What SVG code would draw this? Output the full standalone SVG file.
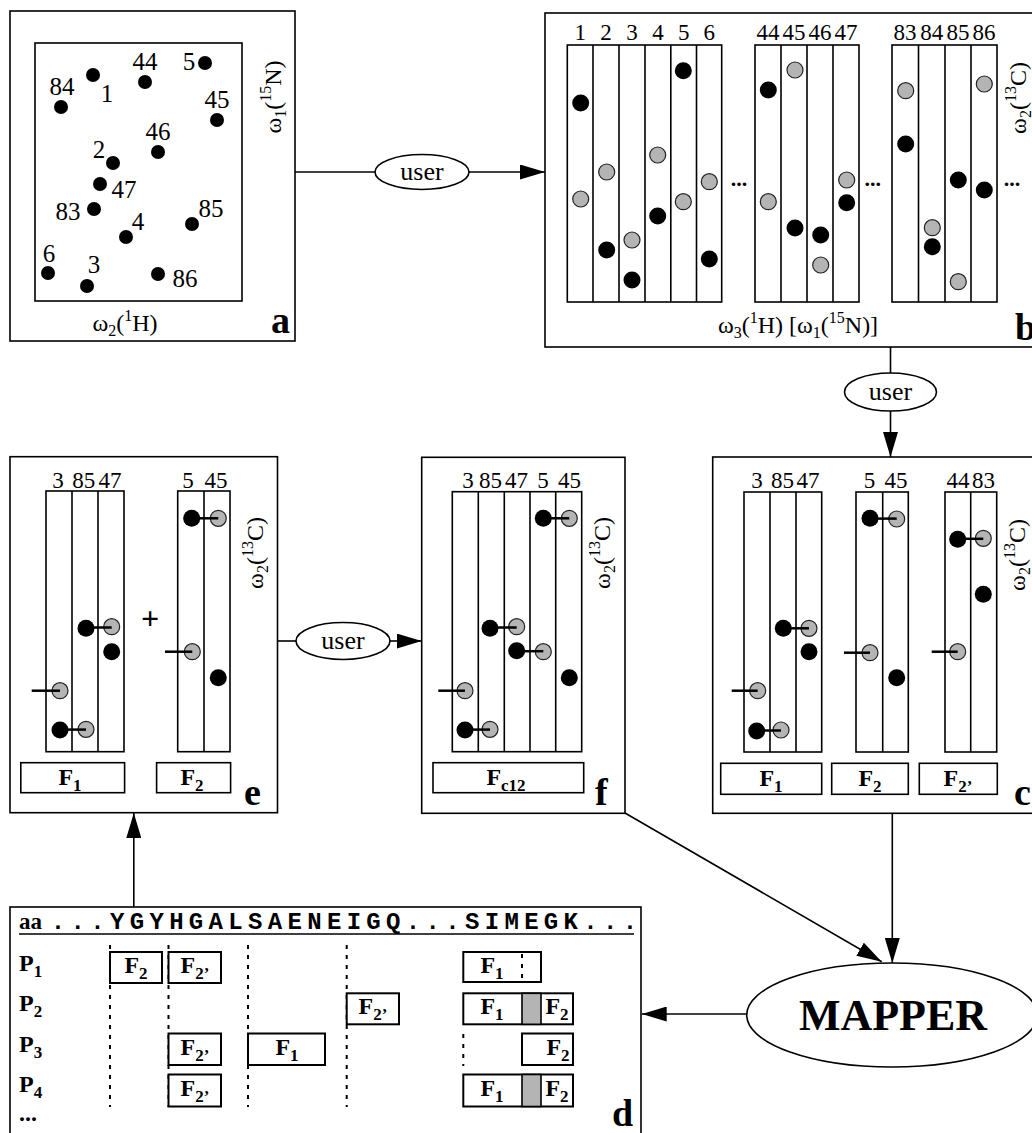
<svg xmlns="http://www.w3.org/2000/svg" width="1032" height="1133" viewBox="0 0 1032 1133">
<defs>
<marker id="ah" viewBox="0 0 10 6" refX="10" refY="3" markerWidth="25" markerHeight="15" markerUnits="userSpaceOnUse" orient="auto"><path d="M0,0 L10,3 L0,6 z" fill="#000"/></marker>
</defs>
<style>
.box{fill:none;stroke:#000;stroke-width:1.6}
.wb{fill:#fff;stroke:#000;stroke-width:1.6}
.fb{fill:#fff;stroke:#000;stroke-width:2}
.dv{stroke:#000;stroke-width:1.6}
.bk{fill:#000}
.gy{fill:#b4b4b4;stroke:#222;stroke-width:1.2}
.cn{stroke:#000;stroke-width:2.5}
.t{font-family:"Liberation Serif","Times New Roman",serif;fill:#000}
.n{font-size:25px}
.c{font-size:23px}
.ax{font-size:24px}
.s{font-size:16px}
.pl{font-size:38px;font-weight:bold}
.fl{font-size:24px;font-weight:bold}
.fs{font-size:17px}
.us{font-size:26px}
.dash{stroke:#000;stroke-width:2;stroke-dasharray:4 6}
.seq{font-family:"Liberation Mono","Courier New",monospace;font-size:24px;font-weight:bold;letter-spacing:5.32px}
.ln{stroke:#000;stroke-width:1.6;fill:none}
</style>

<g id="connectors">
<line class="ln" x1="295" y1="172" x2="375" y2="172"/>
<line class="ln" x1="469" y1="172" x2="545" y2="172" marker-end="url(#ah)"/>
<line class="ln" x1="890.5" y1="347" x2="890.5" y2="373"/>
<line class="ln" x1="890.5" y1="411" x2="890.5" y2="457" marker-end="url(#ah)"/>
<line class="ln" x1="277.5" y1="641" x2="296" y2="641"/>
<line class="ln" x1="390" y1="641" x2="421.7" y2="641" marker-end="url(#ah)"/>
<line class="ln" x1="892.3" y1="813.3" x2="892.3" y2="963" marker-end="url(#ah)"/>
<line class="ln" x1="625" y1="813" x2="881.7" y2="961.7" marker-end="url(#ah)"/>
<line class="ln" x1="746.7" y1="1014" x2="641.7" y2="1014" marker-end="url(#ah)"/>
<line class="ln" x1="133.8" y1="907" x2="133.8" y2="813" marker-end="url(#ah)"/>
</g>

<g id="user1">
<ellipse cx="422" cy="172" rx="47" ry="17.5" class="wb"/>
<text class="t us" x="422" y="180" text-anchor="middle">user</text>
</g>
<g id="user2">
<ellipse cx="890.5" cy="392" rx="46" ry="19" class="wb"/>
<text class="t us" x="890.5" y="400" text-anchor="middle">user</text>
</g>
<g id="user3">
<ellipse cx="343" cy="641" rx="47" ry="18.5" class="wb"/>
<text class="t us" x="343" y="649" text-anchor="middle">user</text>
</g>

<g id="mapper">
<ellipse cx="892" cy="1015" rx="145.3" ry="52" class="wb"/>
<text class="t" x="893" y="1030" text-anchor="middle" font-size="44" font-weight="bold">MAPPER</text>
</g>

<g id="panel-a">
<rect x="10" y="11" width="285" height="330" class="box"/>
<rect x="35" y="43" width="207" height="258" class="box"/>
<g class="bk">
<circle cx="93" cy="75" r="7"/><circle cx="145" cy="82" r="7"/><circle cx="205" cy="63" r="7"/>
<circle cx="61" cy="107" r="7"/><circle cx="217" cy="120" r="7"/><circle cx="158" cy="152" r="7"/>
<circle cx="113" cy="163" r="7"/><circle cx="100" cy="184" r="7"/><circle cx="94" cy="209" r="7"/>
<circle cx="126" cy="237" r="7"/><circle cx="192" cy="224" r="7"/><circle cx="48" cy="273" r="7"/>
<circle cx="87" cy="286" r="7"/><circle cx="158" cy="274" r="7"/>
</g>
<g class="t n" text-anchor="middle">
<text x="62" y="95">84</text><text x="107" y="102">1</text><text x="145" y="70">44</text>
<text x="189" y="70">5</text><text x="217" y="108">45</text><text x="158" y="140">46</text>
<text x="99" y="158">2</text><text x="124" y="198">47</text><text x="68" y="220">83</text>
<text x="138" y="230">4</text><text x="211" y="217">85</text><text x="49" y="262">6</text>
<text x="94" y="273">3</text><text x="185" y="287">86</text>
</g>
<text class="t ax" x="125" y="331" text-anchor="middle">ω<tspan class="s" dy="5">2</tspan><tspan dy="-5">(</tspan><tspan class="s" dy="-10">1</tspan><tspan dy="10">H)</tspan></text>
<text class="t ax" transform="translate(281,97) rotate(-90)" text-anchor="middle">ω<tspan class="s" dy="5">1</tspan><tspan dy="-5">(</tspan><tspan class="s" dy="-10">15</tspan><tspan dy="10">N)</tspan></text>
<text class="t pl" x="271" y="333">a</text>
</g>

<g id="panel-b">
<rect x="545" y="13" width="500" height="334" class="box"/>
<rect x="567.3" y="45" width="154.4" height="257" class="wb"/>
<line class="dv" x1="593" y1="45" x2="593" y2="302"/><line class="dv" x1="619" y1="45" x2="619" y2="302"/>
<line class="dv" x1="645" y1="45" x2="645" y2="302"/><line class="dv" x1="670.8" y1="45" x2="670.8" y2="302"/>
<line class="dv" x1="696.5" y1="45" x2="696.5" y2="302"/>
<rect x="755" y="45" width="104" height="257" class="wb"/>
<line class="dv" x1="781" y1="45" x2="781" y2="302"/><line class="dv" x1="807" y1="45" x2="807" y2="302"/>
<line class="dv" x1="833" y1="45" x2="833" y2="302"/>
<rect x="892" y="45" width="105" height="257" class="wb"/>
<line class="dv" x1="918.5" y1="45" x2="918.5" y2="302"/><line class="dv" x1="945" y1="45" x2="945" y2="302"/>
<line class="dv" x1="971" y1="45" x2="971" y2="302"/>
<g class="t c" text-anchor="middle">
<text x="580.2" y="40">1</text><text x="606" y="40">2</text><text x="632" y="40">3</text>
<text x="658" y="40">4</text><text x="683.7" y="40">5</text><text x="709.3" y="40">6</text>
<text x="768" y="40">44</text><text x="794" y="40">45</text><text x="820" y="40">46</text><text x="846" y="40">47</text>
<text x="905" y="40">83</text><text x="931.7" y="40">84</text><text x="958" y="40">85</text><text x="984" y="40">86</text>
</g>
<g class="bk">
<circle cx="580.7" cy="103" r="8.5"/><circle cx="606.7" cy="250" r="8.5"/><circle cx="632" cy="280" r="8.5"/>
<circle cx="657.7" cy="216" r="8.5"/><circle cx="683.3" cy="70.7" r="8.5"/><circle cx="709.3" cy="259" r="8.5"/>
<circle cx="768.3" cy="90" r="8.5"/><circle cx="795" cy="228" r="8.5"/><circle cx="820.7" cy="235" r="8.5"/>
<circle cx="846.7" cy="202.7" r="8.5"/><circle cx="905.7" cy="144" r="8.5"/><circle cx="932.3" cy="246.7" r="8.5"/>
<circle cx="958.3" cy="180" r="8.5"/><circle cx="984.3" cy="190" r="8.5"/>
</g>
<g class="gy">
<circle cx="580.7" cy="199" r="8"/><circle cx="606.7" cy="172" r="8"/><circle cx="632" cy="240" r="8"/>
<circle cx="657.7" cy="155" r="8"/><circle cx="683.3" cy="201.7" r="8"/><circle cx="709.3" cy="181.7" r="8"/>
<circle cx="768.3" cy="201.7" r="8"/><circle cx="795" cy="70" r="8"/><circle cx="820.7" cy="265" r="8"/>
<circle cx="846.7" cy="180" r="8"/><circle cx="905.7" cy="90.7" r="8"/><circle cx="932.3" cy="227.7" r="8"/>
<circle cx="958.3" cy="281.7" r="8"/><circle cx="984.3" cy="84" r="8"/>
</g>
<g class="t" font-size="22" font-weight="bold" text-anchor="middle">
<text x="739" y="186">...</text><text x="872.7" y="186">...</text><text x="1012" y="186">...</text>
</g>
<text class="t ax" x="798" y="333" text-anchor="middle">ω<tspan class="s" dy="5">3</tspan><tspan dy="-5">(</tspan><tspan class="s" dy="-10">1</tspan><tspan dy="10">H) [ω</tspan><tspan class="s" dy="5">1</tspan><tspan dy="-5">(</tspan><tspan class="s" dy="-10">15</tspan><tspan dy="10">N)]</tspan></text>
<text class="t ax" transform="translate(1026,98) rotate(-90)" text-anchor="middle">ω<tspan class="s" dy="5">2</tspan><tspan dy="-5">(</tspan><tspan class="s" dy="-10">13</tspan><tspan dy="10">C)</tspan></text>
<text class="t pl" x="1015" y="340" font-size="40">b</text>
</g>

<g id="panel-c">
<rect x="712.7" y="457" width="330" height="356.3" class="box"/>
<rect x="744" y="492" width="77.7" height="260" class="wb"/>
<line class="dv" x1="770" y1="492" x2="770" y2="752"/><line class="dv" x1="796" y1="492" x2="796" y2="752"/>
<rect x="856" y="492" width="52.3" height="260" class="wb"/>
<line class="dv" x1="882.7" y1="492" x2="882.7" y2="752"/>
<rect x="945" y="492" width="51.7" height="260" class="wb"/>
<line class="dv" x1="970.7" y1="492" x2="970.7" y2="752"/>
<g class="t c" text-anchor="middle">
<text x="757" y="488">3</text><text x="782.5" y="488">85</text><text x="808" y="488">47</text>
<text x="869.5" y="488">5</text><text x="896" y="488">45</text>
<text x="958" y="488">44</text><text x="983.5" y="488">83</text>
</g>
<g class="bk">
<circle cx="756.7" cy="731" r="8.5"/><circle cx="783.3" cy="628.3" r="8.5"/><circle cx="809" cy="651.7" r="8.5"/>
<circle cx="870" cy="518.3" r="8.5"/><circle cx="896.7" cy="677.7" r="8.5"/>
<circle cx="957.7" cy="539.3" r="8.5"/><circle cx="983.3" cy="594.3" r="8.5"/>
</g>
<g class="gy">
<circle cx="757.7" cy="690.7" r="8"/><circle cx="781" cy="730" r="8"/><circle cx="809" cy="628.3" r="8"/>
<circle cx="896.7" cy="519" r="8"/><circle cx="870" cy="652.7" r="8"/>
<circle cx="983.3" cy="538.3" r="8"/><circle cx="957.7" cy="651.7" r="8"/>
</g>
<g class="cn">
<line x1="731.7" y1="690.7" x2="757.7" y2="690.7"/><line x1="756.7" y1="730.5" x2="781" y2="730.5"/>
<line x1="783.3" y1="628.3" x2="809" y2="628.3"/><line x1="870" y1="518.6" x2="896.7" y2="518.6"/>
<line x1="844" y1="652.7" x2="870" y2="652.7"/><line x1="957.7" y1="538.8" x2="983.3" y2="538.8"/>
<line x1="931.7" y1="651.7" x2="957.7" y2="651.7"/>
</g>
<text class="t ax" transform="translate(1025,555) rotate(-90)" text-anchor="middle">ω<tspan class="s" dy="5">2</tspan><tspan dy="-5">(</tspan><tspan class="s" dy="-10">13</tspan><tspan dy="10">C)</tspan></text>
<rect x="720.7" y="763.3" width="101" height="31" class="wb"/>
<rect x="831.7" y="763.3" width="76.6" height="31" class="wb"/>
<rect x="919.3" y="763.3" width="78" height="31" class="wb"/>
<g class="t fl" text-anchor="middle">
<text x="771" y="786">F<tspan class="fs" dy="6">1</tspan></text>
<text x="870" y="786">F<tspan class="fs" dy="6">2</tspan></text>
<text x="958" y="786">F<tspan class="fs" dy="6">2’</tspan></text>
</g>
<text class="t pl" x="1014" y="805">c</text>
</g>

<g id="panel-e">
<rect x="10" y="456.7" width="267.5" height="356" class="box"/>
<rect x="46" y="491" width="78" height="260.7" class="wb"/>
<line class="dv" x1="72" y1="491" x2="72" y2="751.7"/><line class="dv" x1="98" y1="491" x2="98" y2="751.7"/>
<rect x="177.7" y="491" width="52.3" height="260.7" class="wb"/>
<line class="dv" x1="204" y1="491" x2="204" y2="751.7"/>
<g class="t c" text-anchor="middle">
<text x="58" y="488">3</text><text x="83.7" y="488">85</text><text x="110" y="488">47</text>
<text x="188" y="488">5</text><text x="216" y="488">45</text>
</g>
<text class="t" x="150" y="629" font-size="32" font-weight="bold" text-anchor="middle">+</text>
<g class="bk">
<circle cx="60" cy="730" r="8.5"/><circle cx="86" cy="628.3" r="8.5"/><circle cx="111.7" cy="651.7" r="8.5"/>
<circle cx="191.7" cy="518.3" r="8.5"/><circle cx="218.3" cy="677.7" r="8.5"/>
</g>
<g class="gy">
<circle cx="60" cy="690.7" r="8"/><circle cx="86" cy="729.3" r="8"/><circle cx="111.7" cy="626.7" r="8"/>
<circle cx="218.3" cy="518.3" r="8"/><circle cx="192.3" cy="651.7" r="8"/>
</g>
<g class="cn">
<line x1="31.7" y1="690.7" x2="60" y2="690.7"/><line x1="60" y1="729.6" x2="86" y2="729.6"/>
<line x1="86" y1="627.5" x2="111.7" y2="627.5"/><line x1="191.7" y1="518.3" x2="218.3" y2="518.3"/>
<line x1="165" y1="651.7" x2="192.3" y2="651.7"/>
</g>
<text class="t ax" transform="translate(263,553) rotate(-90)" text-anchor="middle">ω<tspan class="s" dy="5">2</tspan><tspan dy="-5">(</tspan><tspan class="s" dy="-10">13</tspan><tspan dy="10">C)</tspan></text>
<rect x="20.8" y="762.7" width="103.8" height="30" class="wb"/>
<rect x="156.6" y="762.7" width="74" height="30" class="wb"/>
<g class="t fl" text-anchor="middle">
<text x="70" y="785">F<tspan class="fs" dy="6">1</tspan></text>
<text x="192" y="785">F<tspan class="fs" dy="6">2</tspan></text>
</g>
<text class="t pl" x="244" y="805">e</text>
</g>

<g id="panel-f">
<rect x="421.7" y="457.3" width="203.3" height="356" class="box"/>
<rect x="452.3" y="491.7" width="129.4" height="260" class="wb"/>
<line class="dv" x1="478.3" y1="491.7" x2="478.3" y2="751.7"/><line class="dv" x1="504.3" y1="491.7" x2="504.3" y2="751.7"/>
<line class="dv" x1="530" y1="491.7" x2="530" y2="751.7"/><line class="dv" x1="555.7" y1="491.7" x2="555.7" y2="751.7"/>
<g class="t c" text-anchor="middle">
<text x="468" y="488">3</text><text x="490.5" y="488">85</text><text x="516.5" y="488">47</text>
<text x="543" y="488">5</text><text x="569.5" y="488">45</text>
</g>
<g class="bk">
<circle cx="465" cy="730" r="8.5"/><circle cx="490" cy="628.3" r="8.5"/><circle cx="516.7" cy="650.7" r="8.5"/>
<circle cx="543.3" cy="518.3" r="8.5"/><circle cx="569.3" cy="677.7" r="8.5"/>
</g>
<g class="gy">
<circle cx="465" cy="690.7" r="8"/><circle cx="490" cy="729.3" r="8"/><circle cx="516.7" cy="626.7" r="8"/>
<circle cx="543.3" cy="651.7" r="8"/><circle cx="569.3" cy="518.3" r="8"/>
</g>
<g class="cn">
<line x1="438.3" y1="690.7" x2="465" y2="690.7"/><line x1="465" y1="729.6" x2="490" y2="729.6"/>
<line x1="490" y1="627.5" x2="516.7" y2="627.5"/><line x1="516.7" y1="651.2" x2="543.3" y2="651.2"/>
<line x1="543.3" y1="518.3" x2="569.3" y2="518.3"/>
</g>
<text class="t ax" transform="translate(610,553) rotate(-90)" text-anchor="middle">ω<tspan class="s" dy="5">2</tspan><tspan dy="-5">(</tspan><tspan class="s" dy="-10">13</tspan><tspan dy="10">C)</tspan></text>
<rect x="433" y="762.7" width="150.7" height="30" class="wb"/>
<text class="t fl" x="506" y="785" text-anchor="middle">F<tspan class="fs" dy="6">c12</tspan></text>
<text class="t pl" x="595" y="805">f</text>
</g>

<g id="panel-d">
<rect x="10" y="907" width="631" height="240" class="box"/>
<text class="t" x="19" y="929" font-size="23" font-weight="bold">aa</text>
<text class="seq" x="50.8" y="929">...YGYHGALSAENEIGQ...SIMEGK...</text>
<line x1="19" y1="934" x2="634" y2="934" stroke="#000" stroke-width="1.6"/>
<line class="dash" x1="110" y1="945" x2="110" y2="1107"/>
<line class="dash" x1="168.5" y1="945" x2="168.5" y2="1107"/>
<line class="dash" x1="248" y1="945" x2="248" y2="1107"/>
<line class="dash" x1="346.7" y1="945" x2="346.7" y2="1107"/>
<line class="dash" x1="463.3" y1="1034" x2="463.3" y2="1066"/>
<g class="fb">
<rect x="110" y="952" width="52" height="31"/>
<rect x="168.5" y="952" width="52.5" height="31"/>
<rect x="463.3" y="952" width="77.7" height="30"/>
<rect x="346.7" y="993.3" width="52.3" height="31"/>
<rect x="463.3" y="993.3" width="109.7" height="31"/>
<rect x="168.5" y="1033.5" width="52.5" height="31.5"/>
<rect x="248" y="1033.5" width="77" height="31.5"/>
<rect x="522" y="1033.5" width="51" height="31.5"/>
<rect x="168.5" y="1074.5" width="52.5" height="32"/>
<rect x="463.3" y="1074.5" width="109.7" height="32"/>
</g>
<line class="dash" x1="522" y1="954" x2="522" y2="982"/>
<rect x="522" y="993.3" width="19" height="31" fill="#b4b4b4" stroke="#000" stroke-width="1.6"/>
<rect x="522" y="1074.5" width="19" height="32" fill="#b4b4b4" stroke="#000" stroke-width="1.6"/>
<g class="t fl">
<text x="19" y="971">P<tspan class="fs" dy="6">1</tspan></text>
<text x="19" y="1011">P<tspan class="fs" dy="6">2</tspan></text>
<text x="19" y="1052">P<tspan class="fs" dy="6">3</tspan></text>
<text x="19" y="1092">P<tspan class="fs" dy="6">4</tspan></text>
<text x="19" y="1121">...</text>
</g>
<g class="t fl" text-anchor="middle">
<text x="136" y="973">F<tspan class="fs" dy="6">2</tspan></text>
<text x="195" y="973">F<tspan class="fs" dy="6">2’</tspan></text>
<text x="492" y="973">F<tspan class="fs" dy="6">1</tspan></text>
<text x="373" y="1014">F<tspan class="fs" dy="6">2’</tspan></text>
<text x="492" y="1014">F<tspan class="fs" dy="6">1</tspan></text>
<text x="557" y="1014">F<tspan class="fs" dy="6">2</tspan></text>
<text x="195" y="1055">F<tspan class="fs" dy="6">2’</tspan></text>
<text x="287" y="1055">F<tspan class="fs" dy="6">1</tspan></text>
<text x="558" y="1055">F<tspan class="fs" dy="6">2</tspan></text>
<text x="195" y="1096">F<tspan class="fs" dy="6">2’</tspan></text>
<text x="492" y="1096">F<tspan class="fs" dy="6">1</tspan></text>
<text x="557" y="1096">F<tspan class="fs" dy="6">2</tspan></text>
</g>
<text class="t pl" x="612" y="1126">d</text>
</g>
</svg>
